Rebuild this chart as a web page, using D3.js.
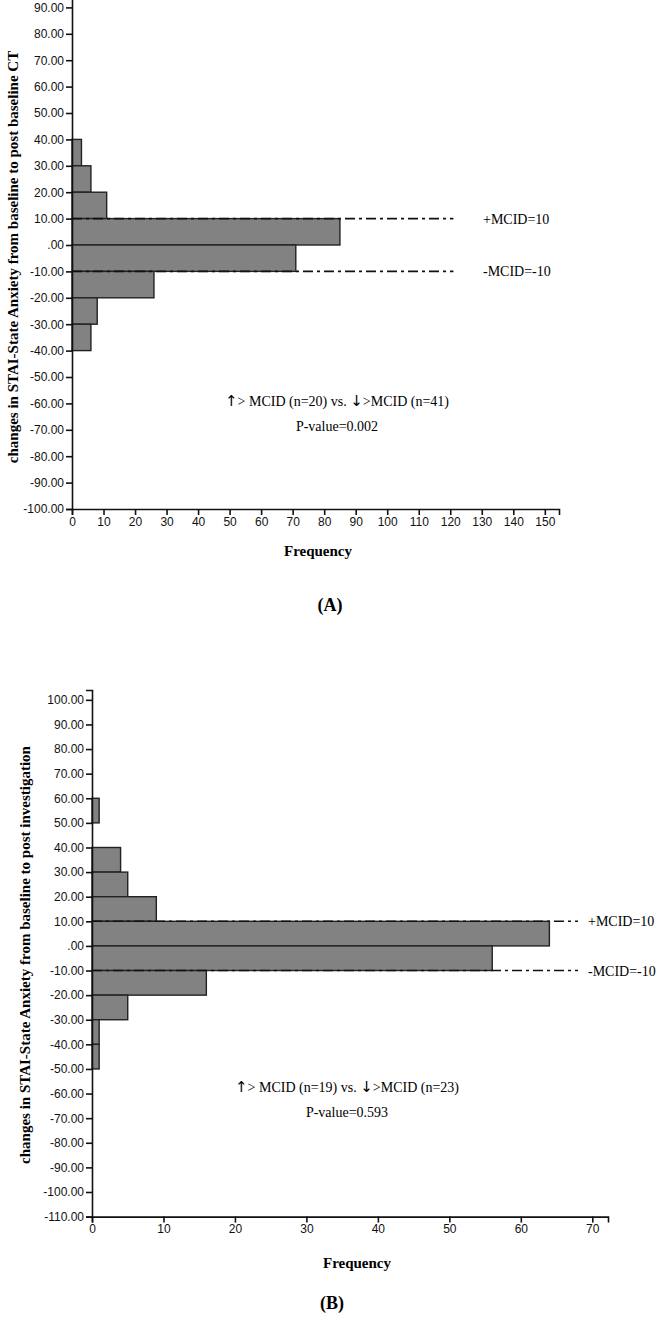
<!DOCTYPE html>
<html>
<head>
<meta charset="utf-8">
<script src="https://cdn.jsdelivr.net/npm/d3@7"></script>
<style>
  body { margin: 0; background: #fff; }
  svg { display: block; }
</style>
</head>
<body>
<div id="chart"></div>
<script>
// panel A: STAI-State change, baseline -> post baseline CT
const binStartA = [30, 20, 10, 0, -10, -20, -30, -40];
const countA = [3, 6, 11, 85, 71, 26, 8, 6];
const yTicksA = d3.range(-100, 91, 10);
const xTicksA = d3.range(0, 151, 10);

// panel B: STAI-State change, baseline -> post investigation
const binStartB = [50, 30, 20, 10, 0, -10, -20, -30, -40, -50];
const countB = [1, 4, 5, 9, 64, 56, 16, 5, 1, 1];
const yTicksB = d3.range(-110, 101, 10);
const xTicksB = d3.range(0, 71, 10);

const binWidth = 10;
const mcidValues = [10, -10];
const mcidLabels = ["+MCID=10", "-MCID=-10"];

const W = 661, H = 1329;
const svg = d3.select("#chart").append("svg")
    .attr("width", W)
    .attr("height", H);

const serif = "'Liberation Serif', 'Times New Roman', serif";
const narrow = "'Liberation Sans Narrow', 'Arial Narrow', 'Liberation Sans', sans-serif";

function drawPanel(p) {
    const g = svg.append("g");

    const xScale = d3.scaleLinear().domain(p.xDomain).range(p.xRange);
    const yScale = d3.scaleLinear().domain(p.yDomain).range(p.yRange);

    // bars
    g.selectAll("rect.bar")
        .data(p.bins.map((b, i) => ({ lo: b, n: p.counts[i] })))
        .enter()
        .append("rect")
        .attr("class", "bar")
        .attr("x", xScale(0))
        .attr("y", d => yScale(d.lo + binWidth))
        .attr("width", d => xScale(d.n) - xScale(0))
        .attr("height", d => yScale(d.lo) - yScale(d.lo + binWidth))
        .style("fill", "#828282")
        .style("stroke", "#222")
        .style("stroke-width", 1.4);

    // MCID reference lines
    g.selectAll("line.mcid")
        .data(mcidValues)
        .enter()
        .append("line")
        .attr("x1", xScale(0))
        .attr("x2", xScale(p.mcidEnd))
        .attr("y1", d => yScale(d))
        .attr("y2", d => yScale(d))
        .style("stroke", "#111")
        .style("stroke-width", 1.6)
        .style("stroke-dasharray", "10,4,3,4");

    g.selectAll("text.mcid")
        .data(mcidValues)
        .enter()
        .append("text")
        .attr("x", p.mcidLabelX)
        .attr("y", d => yScale(d) + 5)
        .style("font-family", serif)
        .style("font-size", "14px")
        .text((d, i) => mcidLabels[i]);

    // y axis
    const yAxis = d3.axisLeft(yScale)
        .tickValues(p.yTicks)
        .tickSizeOuter(0)
        .tickSize(6)
        .tickPadding(2)
        .tickFormat(v => v === 0 ? ".00" : v.toFixed(2));
    const ya = g.append("g")
        .attr("transform", `translate(${xScale(0)},0)`)
        .call(yAxis);
    ya.selectAll("text")
        .style("font-family", narrow)
        .style("font-size", "12px")
        .style("fill", "#111");

    // x axis
    const xAxis = d3.axisBottom(xScale)
        .tickValues(p.xTicks)
        .tickSizeOuter(0)
        .tickSize(6)
        .tickPadding(2);
    const xa = g.append("g")
        .attr("transform", `translate(0,${yScale(p.yDomain[0])})`)
        .call(xAxis);
    xa.selectAll("text")
        .style("font-family", narrow)
        .style("font-size", "12px")
        .style("fill", "#111");

    g.selectAll(".domain, .tick line")
        .style("stroke", "#111")
        .style("stroke-width", 1.6);

    // axis titles
    g.append("text")
        .attr("transform", `translate(${p.yTitle[0]},${p.yTitle[1]}) rotate(-90)`)
        .style("text-anchor", "middle")
        .style("font-family", serif)
        .style("font-weight", "bold")
        .style("font-size", "15px")
        .text(p.yLabel);

    g.append("text")
        .attr("x", p.xTitle[0])
        .attr("y", p.xTitle[1])
        .style("text-anchor", "middle")
        .style("font-family", serif)
        .style("font-weight", "bold")
        .style("font-size", "15px")
        .text("Frequency");

    // test annotation (arrows drawn in a font with larger arrow glyphs)
    p.notes.forEach((t, i) => {
        const txt = g.append("text")
            .attr("x", p.noteX)
            .attr("y", p.noteY + i * 25)
            .style("text-anchor", "middle")
            .style("font-family", serif)
            .style("font-size", "14px");
        t.split(/([\u2191\u2193])/).filter(s => s.length).forEach(s => {
            const span = txt.append("tspan").text(s);
            if (s === "\u2191" || s === "\u2193") {
                span.style("font-family", "'DejaVu Sans', sans-serif")
                    .style("font-size", "15px");
            }
        });
    });

    g.append("text")
        .attr("x", p.tag[0])
        .attr("y", p.tag[1])
        .style("text-anchor", "middle")
        .style("font-family", serif)
        .style("font-weight", "bold")
        .style("font-size", "18px")
        .text(p.tagText);
}

drawPanel({
    bins: binStartA, counts: countA, yTicks: yTicksA, xTicks: xTicksA,
    xDomain: [0, 154.5], xRange: [72, 559],
    yDomain: [-100, 100], yRange: [509, -19],
    mcidEnd: 121, mcidLabelX: 483,
    yLabel: "changes in STAI-State Anxiety from baseline to post baseline CT",
    yTitle: [18, 257], xTitle: [318, 556],
    notes: ["\u2191> MCID (n=20) vs. \u2193>MCID (n=41)", "P-value=0.002"],
    noteX: 337, noteY: 406,
    tag: [330, 611], tagText: "(A)"
});

drawPanel({
    bins: binStartB, counts: countB, yTicks: yTicksB, xTicks: xTicksB,
    xDomain: [0, 72.2], xRange: [92, 608],
    yDomain: [-110, 104], yRange: [1216.6, 690],
    mcidEnd: 68, mcidLabelX: 588,
    yLabel: "changes in STAI-State Anxiety from baseline to post investigation",
    yTitle: [30, 955], xTitle: [357, 1268],
    notes: ["\u2191> MCID (n=19) vs. \u2193>MCID (n=23)", "P-value=0.593"],
    noteX: 347, noteY: 1092,
    tag: [332, 1309], tagText: "(B)"
});
</script>
</body>
</html>
